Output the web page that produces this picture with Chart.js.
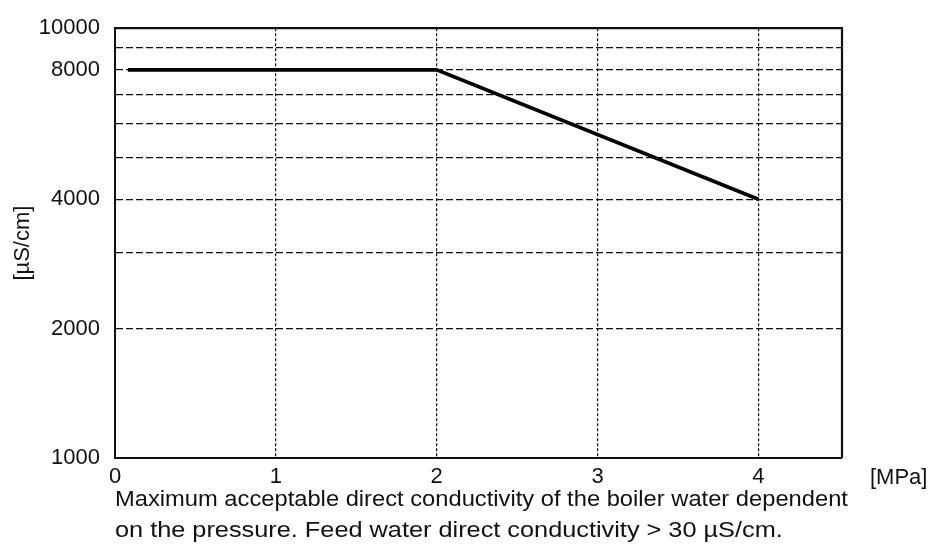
<!DOCTYPE html>
<html>
<head>
<meta charset="utf-8">
<script src="https://cdn.jsdelivr.net/npm/chart.js@4.4.1/dist/chart.umd.min.js"></script>
<style>
  html, body { margin: 0; padding: 0; background: #fff; }
  #wrap { position: relative; width: 932px; height: 547px; overflow: hidden; }
  #c { position: absolute; left: 0; top: 0; }
  .txt {
    position: absolute;
    font-family: "Liberation Sans", Arial, sans-serif;
    font-size: 22px;
    line-height: 1;
    color: #111;
    white-space: nowrap;
    transform-origin: left top;
  }
  #cap1 { transform: scaleX(1.078); }
  #cap2 { transform: scaleX(1.15); }
</style>
</head>
<body>
<div id="wrap">
  <canvas id="c" width="932" height="547"></canvas>
  <div class="txt" style="left:870px; top:466px;">[MPa]</div>
  <div class="txt" id="cap1" style="left:115px; top:488px;">Maximum acceptable direct conductivity of the boiler water dependent</div>
  <div class="txt" id="cap2" style="left:115px; top:519px;">on the pressure. Feed water direct conductivity &gt; 30 µS/cm.</div>
</div>
<script>
// Pressure [MPa] and the maximum boiler-water conductivity [µS/cm]
const pressure = [0.08, 2, 4];
const conductivity = [8000, 8000, 4000];

// Axis ticks
const xTicks = [0, 1, 2, 3, 4];
const yGridValues = [1000, 2000, 3000, 4000, 5000, 6000, 7000, 8000, 9000, 10000];
const yTickLabels = [1000, 2000, 4000, 8000, 10000];

const FONT = { family: '"Liberation Sans", Arial, sans-serif', size: 22 };

// Solid frame on top and right of the plot area
const framePlugin = {
  id: 'frame',
  afterDatasetsDraw(chart) {
    const { ctx, chartArea: a } = chart;
    ctx.save();
    ctx.strokeStyle = '#111';
    ctx.lineWidth = 2.2;
    ctx.beginPath();
    ctx.moveTo(a.left, a.top);
    ctx.lineTo(a.right, a.top);
    ctx.lineTo(a.right, a.bottom);
    ctx.stroke();
    ctx.restore();
  }
};

new Chart(document.getElementById('c'), {
  type: 'line',
  data: {
    datasets: [{
      data: pressure.map((p, i) => ({ x: p, y: conductivity[i] })),
      borderColor: '#000',
      borderWidth: 3.6,
      pointRadius: 0,
      tension: 0,
      fill: false
    }]
  },
  options: {
    responsive: false,
    animation: false,
    events: [],
    layout: { padding: { left: 0, right: 90, top: 24, bottom: 59 } },
    plugins: { legend: { display: false }, tooltip: { enabled: false } },
    scales: {
      x: {
        type: 'linear',
        min: 0,
        max: 4.52,
        afterBuildTicks: s => { s.ticks = xTicks.map(v => ({ value: v })); },
        afterFit: s => { s.height = 30; },
        ticks: { font: FONT, color: '#111', padding: 6, autoSkip: false, maxRotation: 0 },
        grid: {
          drawTicks: false,
          color: c => (c.tick && c.tick.value === 0) ? 'rgba(0,0,0,0)' : '#111',
          lineWidth: 1.2
        },
        border: { display: true, color: '#111', width: 2, dash: [3, 2] }
      },
      y: {
        type: 'logarithmic',
        min: 1000,
        max: 10000,
        afterBuildTicks: s => { s.ticks = yGridValues.map(v => ({ value: v })); },
        afterFit: s => { s.width = 115; },
        ticks: {
          font: FONT,
          color: '#111',
          padding: 15,
          autoSkip: false,
          callback: v => yTickLabels.includes(v) ? String(v) : ''
        },
        grid: {
          drawTicks: false,
          color: c => (c.tick && (c.tick.value === 1000 || c.tick.value === 10000)) ? 'rgba(0,0,0,0)' : '#111',
          lineWidth: 1.2
        },
        border: { display: true, color: '#111', width: 2, dash: [7, 3] },
        title: {
          display: true,
          text: '[µS/cm]',
          font: FONT,
          color: '#111',
          padding: { top: 10, bottom: 0 }
        }
      }
    }
  },
  plugins: [framePlugin]
});
</script>
</body>
</html>
